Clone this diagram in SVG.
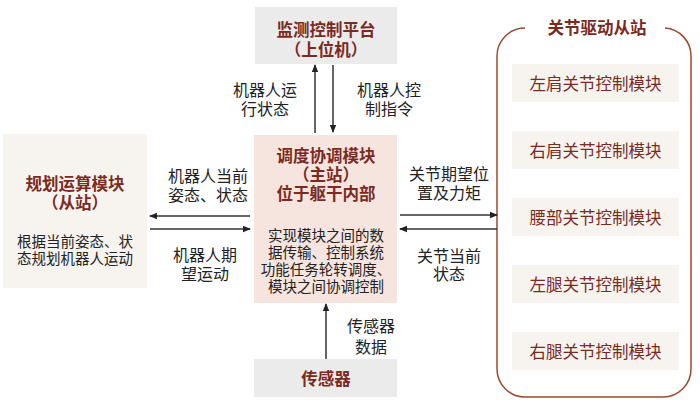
<svg xmlns="http://www.w3.org/2000/svg" width="700" height="404" viewBox="0 0 700 404">
<style>
text{font-family:"Noto Sans CJK SC","Noto Sans",sans-serif;text-anchor:middle;dominant-baseline:central}
.title{font-size:16.5px;font-weight:bold;fill:#7a2a1e}
.body{font-size:14.5px;fill:#222}
.lab{font-size:16px;fill:#222}
.mod{font-size:16.5px;fill:#7a2a1e}
.gray{fill:#ebebeb}
.beige{fill:#f7f3ee}
.pink{fill:#f6e4df}
.conn line{stroke:#333;stroke-width:1.5;marker-end:url(#ah)}
</style>
<defs>
<marker id="ah" markerWidth="8" markerHeight="8" refX="7" refY="4" orient="auto" markerUnits="userSpaceOnUse">
<path d="M0,0.8 L8,4 L0,7.2 Z" fill="#222"/>
</marker>
</defs>
<rect width="700" height="404" fill="#ffffff"/>

<g id="top">
<rect class="gray" x="255" y="7" width="142" height="57"/>
<text class="title" x="326" y="29">监测控制平台</text>
<text class="title" x="326" y="49">（上位机）</text>
</g>

<g id="center">
<rect class="pink" x="254" y="135" width="143" height="168"/>
<text class="title" x="326" y="155">调度协调模块</text>
<text class="title" x="326" y="174">（主站）</text>
<text class="title" x="326" y="193">位于躯干内部</text>
<text class="body" x="326" y="234">实现模块之间的数</text>
<text class="body" x="326" y="251">据传输、控制系统</text>
<text class="body" x="326" y="268">功能任务轮转调度、</text>
<text class="body" x="326" y="285">模块之间协调控制</text>
</g>

<g id="left">
<rect class="beige" x="3" y="134" width="144" height="154"/>
<text class="title" x="75" y="183">规划运算模块</text>
<text class="title" x="75" y="202">（从站）</text>
<text class="body" x="75" y="240">根据当前姿态、状</text>
<text class="body" x="75" y="257">态规划机器人运动</text>
</g>

<g id="bottom">
<rect class="gray" x="254" y="359" width="143" height="38"/>
<text class="title" x="326" y="378">传感器</text>
</g>

<g id="joints">
<path d="M525 28 A28 28 0 0 0 497 56 V369 A28 28 0 0 0 525 397 H663 A28 28 0 0 0 691 369 V56 A28 28 0 0 0 665 28" fill="none" stroke="#9b4a2e" stroke-width="1.5"/>
<text class="title" x="597" y="27">关节驱动从站</text>
<g id="j1"><rect class="beige" x="512" y="64" width="167" height="38"/><text class="mod" x="595.5" y="83">左肩关节控制模块</text></g>
<g id="j2"><rect class="beige" x="512" y="131" width="167" height="38"/><text class="mod" x="595.5" y="150">右肩关节控制模块</text></g>
<g id="j3"><rect class="beige" x="512" y="198" width="167" height="38"/><text class="mod" x="595.5" y="217">腰部关节控制模块</text></g>
<g id="j4"><rect class="beige" x="512" y="265" width="167" height="38"/><text class="mod" x="595.5" y="284">左腿关节控制模块</text></g>
<g id="j5"><rect class="beige" x="512" y="332" width="167" height="38"/><text class="mod" x="595.5" y="351">右腿关节控制模块</text></g>
</g>

<g id="connectors" class="conn">
<line x1="315" y1="133" x2="315" y2="65"/>
<line x1="333" y1="65" x2="333" y2="132"/>
<line x1="250" y1="216" x2="150" y2="216"/>
<line x1="150" y1="229" x2="250" y2="229"/>
<line x1="400" y1="215" x2="497" y2="215"/>
<line x1="497" y1="229" x2="400" y2="229"/>
<line x1="326" y1="359" x2="326" y2="304"/>
</g>

<g id="labels">
<text class="lab" x="265" y="89">机器人运</text>
<text class="lab" x="265" y="108">行状态</text>
<text class="lab" x="389" y="89">机器人控</text>
<text class="lab" x="389" y="108">制指令</text>
<text class="lab" x="208" y="175">机器人当前</text>
<text class="lab" x="208" y="194">姿态、状态</text>
<text class="lab" x="205" y="254">机器人期</text>
<text class="lab" x="205" y="273">望运动</text>
<text class="lab" x="449" y="173">关节期望位</text>
<text class="lab" x="449" y="192">置及力矩</text>
<text class="lab" x="449" y="255">关节当前</text>
<text class="lab" x="449" y="273">状态</text>
<text class="lab" x="371" y="325">传感器</text>
<text class="lab" x="371" y="346">数据</text>
</g>
</svg>
